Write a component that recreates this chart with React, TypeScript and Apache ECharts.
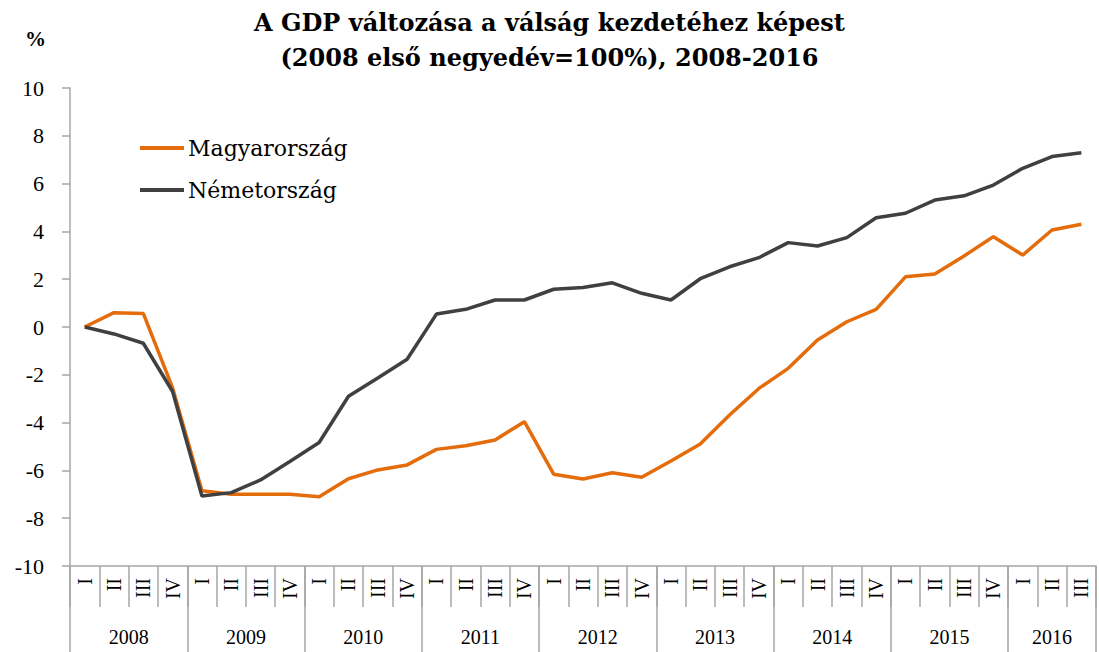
import React, { useEffect, useRef } from "react";
import * as echarts from "echarts";

const quarters = [
  "I","II","III","IV","I","II","III","IV","I","II","III","IV",
  "I","II","III","IV","I","II","III","IV","I","II","III","IV",
  "I","II","III","IV","I","II","III","IV","I","II","III",
];
const years = ["2008","2009","2010","2011","2012","2013","2014","2015","2016"];
const quartersPerYear = [4, 4, 4, 4, 4, 4, 4, 4, 3];
const magyarorszag = [
  0, 0.6, 0.57, -2.55,
  -6.85, -7.0, -7.0, -7.0,
  -7.1, -6.35, -5.98, -5.77,
  -5.12, -4.97, -4.73, -3.96,
  -6.16, -6.36, -6.1, -6.29,
  -5.61, -4.9, -3.68, -2.57,
  -1.73, -0.54, 0.22, 0.74,
  2.1, 2.22, 2.97, 3.78,
  3.01, 4.06, 4.3,
];
const nemetorszag = [
  0, -0.29, -0.68, -2.7,
  -7.07, -6.93, -6.4, -5.63,
  -4.83, -2.9, -2.13, -1.35,
  0.54, 0.74, 1.13, 1.13,
  1.58, 1.65, 1.85, 1.41,
  1.13, 2.02, 2.52, 2.9,
  3.53, 3.39, 3.74, 4.57,
  4.76, 5.31, 5.49, 5.94,
  6.64, 7.13, 7.29,
];
const yTicks = { min: -10, max: 10, interval: 2 };

const FONT = "Liberation Serif, serif";
const WIDE = "DejaVu Serif, serif";

export default function App() {
  const ref = useRef<HTMLDivElement>(null);
  useEffect(() => {
    if (!ref.current) return;
    const chart = echarts.init(ref.current, null, { renderer: "svg" });
    const yearCenters: Record<string, string> = {};
    const boundaries = new Set<number>();
    let acc = 0;
    years.forEach((y, i) => {
      boundaries.add(acc);
      yearCenters[String(acc + quartersPerYear[i] / 2)] = y;
      acc += quartersPerYear[i];
    });
    const total = acc;
    const grid = { left: 70, right: 0, top: 88, bottom: 86 };
    const gray = "#a6a6a6";
    chart.setOption({
      animation: false,
      textStyle: { fontFamily: FONT },
      title: {
        text: "A GDP változása a válság kezdetéhez képest\n(2008 első negyedév=100%), 2008-2016",
        left: "center",
        top: 5,
        padding: 0,
        textStyle: { fontFamily: WIDE, fontWeight: "bold", fontSize: 24, lineHeight: 35, color: "#000" },
      },
      graphic: [
        {
          type: "text",
          left: 25,
          top: 28,
          style: { text: "%", font: `bold 21px ${FONT}`, fill: "#000" },
        },
      ],
      legend: {
        orient: "vertical",
        left: 140,
        top: 137,
        padding: 0,
        icon: "rect",
        itemWidth: 44,
        itemHeight: 4,
        itemGap: 20,
        textStyle: { fontFamily: WIDE, fontSize: 22, color: "#000", padding: [0, 0, 0, -1] },
        data: ["Magyarország", "Németország"],
      },
      grid,
      xAxis: [
        {
          type: "category",
          data: quarters,
          boundaryGap: true,
          position: "bottom",
          axisLine: { show: true, onZero: false, lineStyle: { color: gray, width: 1.5 } },
          axisTick: { show: true, length: 41, interval: 0, lineStyle: { color: gray, width: 1.5 } },
          axisLabel: {
            interval: 0,
            rotate: 90,
            margin: 12,
            fontFamily: FONT,
            fontSize: 20,
            color: "#000",
          },
        },
        {
          type: "category",
          data: quarters,
          boundaryGap: true,
          position: "bottom",
          axisLine: { show: false, onZero: false },
          axisTick: {
            show: true,
            length: 86,
            interval: (i: number) => boundaries.has(i),
            lineStyle: { color: gray, width: 1.5 },
          },
          axisLabel: { show: false },
        },
        {
          type: "value",
          min: 0,
          max: total,
          interval: 0.5,
          position: "bottom",
          axisLine: { show: false, onZero: false },
          axisTick: { show: false },
          splitLine: { show: false },
          axisLabel: {
            margin: 61,
            fontFamily: FONT,
            fontSize: 20,
            color: "#000",
            formatter: (v: number) => yearCenters[String(v)] || "",
          },
        },
      ],
      yAxis: {
        type: "value",
        min: yTicks.min,
        max: yTicks.max,
        interval: yTicks.interval,
        axisLine: { show: true, lineStyle: { color: gray, width: 1.5 } },
        axisTick: { show: true, length: 8, lineStyle: { color: gray, width: 1.5 } },
        splitLine: { show: false },
        axisLabel: { margin: 26, fontFamily: FONT, fontSize: 22, color: "#000" },
      },
      series: [
        {
          name: "Magyarország",
          type: "line",
          data: magyarorszag,
          symbol: "none",
          color: "#E46C0A",
          lineStyle: { width: 3.5, color: "#E46C0A" },
          z: 3,
        },
        {
          name: "Németország",
          type: "line",
          data: nemetorszag,
          symbol: "none",
          color: "#404040",
          lineStyle: { width: 3.5, color: "#404040" },
          z: 4,
        },
      ],
    });
    return () => chart.dispose();
  }, []);
  return (
    <div
      ref={ref}
      style={{ position: "fixed", left: 0, top: 0, width: 1099, height: 652, background: "#fff" }}
    />
  );
}
